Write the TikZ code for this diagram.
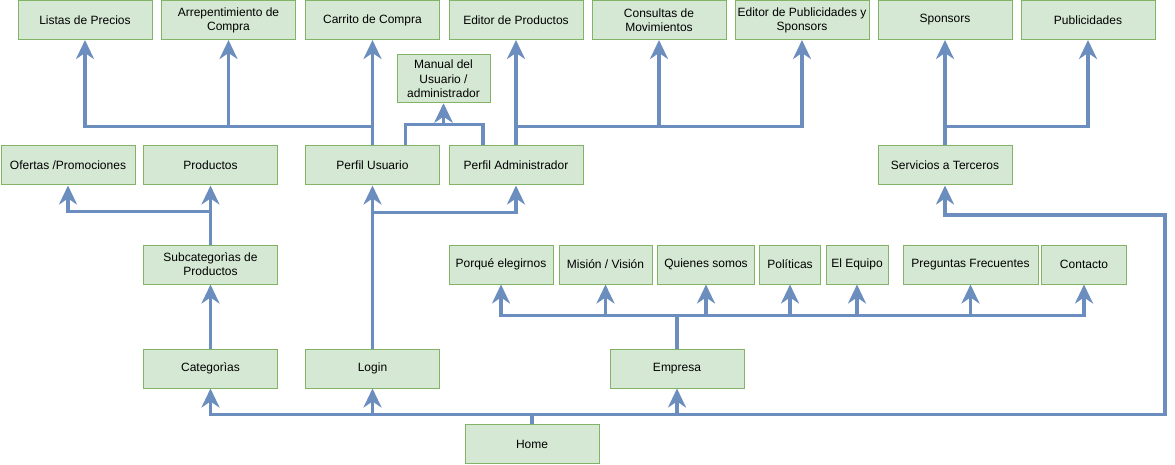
\documentclass[tikz,border=0pt]{standalone}
\usepackage{fontspec}
\setmainfont{Liberation Sans}
\usetikzlibrary{arrows.meta}
\definecolor{boxfill}{HTML}{D5E8D4}
\definecolor{boxline}{HTML}{82B366}
\definecolor{conncol}{HTML}{6C8EBF}
\begin{document}
\begin{tikzpicture}[x=1pt,y=-1pt,
  box/.style={draw=boxline,fill=boxfill,line width=1pt,minimum width=134pt,minimum height=39pt,inner sep=0pt,align=center,font=\fontsize{12}{14}\selectfont},
  conn/.style={draw=conncol,line width=3.3pt,-{Stealth[length=19pt,width=18pt,inset=6pt]}}]
\useasboundingbox (0,0) rectangle (1175,465);
% top row
\node[box] (listas) at (85,20) {Listas de Precios};
\node[box] (arrep) at (228.5,20) {Arrepentimiento de\\Compra};
\node[box] (carrito) at (372.5,20) {Carrito de Compra};
\node[box] (edprod) at (516,20) {Editor de Productos};
\node[box] (cons) at (659,20) {Consultas de\\Movimientos};
\node[box] (edpub) at (802,20) {Editor de Publicidades y\\Sponsors};
\node[box] (spons) at (945,20) {Sponsors};
\node[box] (publi) at (1088,20) {Publicidades};
\node[box,minimum width=93pt,minimum height=48pt,font=\fontsize{12}{14.5}\selectfont] (manual) at (443.5,79) {Manual del\\Usuario /\\administrador};
% row 2
\node[box] (ofertas) at (68,165.5) {Ofertas /Promociones};
\node[box] (prod) at (210.5,165.5) {Productos};
\node[box] (pu) at (372.5,165.5) {Perfil Usuario};
\node[box] (pa) at (516,165.5) {Perfil Administrador};
\node[box] (serv) at (945,165.5) {Servicios a Terceros};
% row 3
\node[box] (subcat) at (210.5,264.5) {Subcategorìas de\\Productos};
\node[box,minimum width=104pt] (porque) at (501,264.5) {Porqué elegirnos};
\node[box,minimum width=93pt] (mision) at (605.5,264.5) {Misión / Visión};
\node[box,minimum width=97pt] (quienes) at (706,264.5) {Quienes somos};
\node[box,minimum width=61pt] (polit) at (790,264.5) {Políticas};
\node[box,minimum width=62pt] (equipo) at (857,264.5) {El Equipo};
\node[box,minimum width=135pt] (preg) at (970.5,264.5) {Preguntas Frecuentes};
\node[box,minimum width=85pt] (contacto) at (1084,264.5) {Contacto};
% row 4
\node[box] (cat) at (210.5,368.5) {Categorìas};
\node[box] (login) at (372.5,368.5) {Login};
\node[box] (emp) at (677,368.5) {Empresa};
\node[box] (home) at (532,444) {Home};
\coordinate (rt) at (1165,215);
% connectors from Home
\draw[conn] (home.north) -- ++(0,-9.5) -| (cat.south);
\draw[conn] (home.north) -- ++(0,-9.5) -| (login.south);
\draw[conn] (home.north) -- ++(0,-9.5) -| (emp.south);
\draw[conn] (home.north) -- ++(0,-9.5) -| (rt) -| (serv.south);
% Categorias
\draw[conn] (cat.north) -- (subcat.south);
\draw[conn] (subcat.north) -- ++(0,-33) -| (ofertas.south);
\draw[conn] (subcat.north) -- (prod.south);
% Login
\draw[conn] (login.north) -- (pu.south);
\draw[conn] (login.north) -- ++(0,-136) -| (pa.south);
% Perfil Usuario
\draw[conn] (pu.north) -- ++(0,-19) -| (listas.south);
\draw[conn] (pu.north) -- ++(0,-19) -| (arrep.south);
\draw[conn] (pu.north) -- (carrito.south);
\draw[conn] ([xshift=33pt]pu.north) -- ++(0,-21) -| (manual.south);
% Perfil Administrador
\draw[conn] ([xshift=-33pt]pa.north) -- ++(0,-21) -| (manual.south);
\draw[conn] (pa.north) -- (edprod.south);
\draw[conn] (pa.north) -- ++(0,-19) -| (cons.south);
\draw[conn] (pa.north) -- ++(0,-19) -| (edpub.south);
% Servicios
\draw[conn] (serv.north) -- (spons.south);
\draw[conn] (serv.north) -- ++(0,-19) -| (publi.south);
% Empresa
\foreach \c in {porque,mision,quienes,polit,equipo,preg,contacto}
  \draw[conn] (emp.north) -- ++(0,-33) -| (\c.south);
\end{tikzpicture}
\end{document}
